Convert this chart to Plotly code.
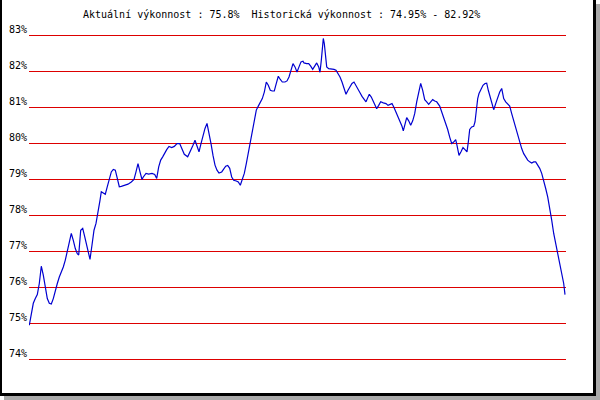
import plotly.graph_objects as go

# time axis (arbitrary units) and performance in %
den = [29.3, 31.3, 33.3, 35.3, 37.3, 39.3, 41.3, 43.3, 45.3, 47.3,
       49.3, 51.3, 53.3, 55.3, 57.3, 59.3, 61.3, 63.3, 65.3, 67.3,
       69.3, 71.3, 73.3, 75.3, 77.3, 78.7, 80.7, 82.7, 84.7, 86.7,
       88.7, 90.0, 92.0, 94.0, 96.0, 98.0, 100.0, 101.3, 103.3, 105.3,
       107.3, 109.3, 111.3, 113.3, 115.3, 117.3, 119.3, 121.3, 124.7, 128.0,
       131.3, 134.0, 136.0, 138.0, 140.0, 142.0, 143.3, 146.0, 148.7, 152.0,
       154.7, 156.7, 158.7, 160.7, 162.7, 164.7, 166.7, 169.0, 171.7, 174.3,
       177.0, 179.7, 181.7, 184.3, 187.7, 190.3, 193.0, 195.0, 197.0, 199.0,
       201.0, 203.0, 205.0, 207.0, 209.0, 211.0, 213.0, 215.0, 217.0, 219.0,
       221.7, 223.7, 225.7, 227.7, 229.7, 231.7, 233.7, 236.3, 238.3, 240.3,
       242.3, 244.3, 246.3, 248.3, 250.3, 252.3, 254.3, 256.3, 258.3, 260.3,
       262.3, 264.3, 266.3, 268.3, 270.3, 272.3, 274.3, 276.3, 278.3, 280.3,
       282.3, 285.0, 287.0, 289.0, 291.0, 293.0, 295.0, 297.0, 299.0, 301.0,
       303.0, 304.0, 306.7, 308.7, 310.7, 312.7, 314.7, 316.7, 318.7, 320.0,
       321.3, 322.3, 323.3, 324.3, 325.3, 326.7, 328.7, 331.3, 334.0, 336.0,
       338.0, 340.0, 342.0, 344.0, 346.0, 348.0, 350.0, 352.0, 354.0, 356.0,
       358.0, 360.0, 362.0, 364.0, 366.0, 368.0, 369.3, 371.3, 373.3, 375.3,
       376.7, 378.7, 380.7, 383.3, 386.0, 388.0, 390.0, 392.0, 394.0, 396.0,
       398.0, 400.0, 402.0, 403.3, 405.3, 406.7, 408.7, 410.7, 412.7, 414.7,
       416.7, 418.7, 420.7, 422.7, 424.7, 426.7, 428.7, 430.7, 432.7, 434.7,
       436.7, 439.7, 441.7, 443.7, 445.7, 447.7, 449.7, 451.7, 453.7, 455.7,
       457.0, 459.0, 461.0, 463.0, 465.0, 467.0, 468.3, 469.7, 471.7, 473.7,
       475.0, 476.3, 477.7, 479.0, 481.0, 483.0, 485.0, 486.7, 488.3, 490.3,
       492.3, 493.7, 495.7, 497.7, 499.7, 501.7, 503.7, 505.7, 507.7, 509.7,
       511.7, 513.7, 515.7, 517.7, 519.7, 521.7, 523.7, 525.7, 527.7, 529.7,
       531.7, 533.7, 535.7, 537.7, 539.7, 541.7, 543.7, 545.7, 547.7, 549.7,
       551.7, 553.7, 555.7, 557.7, 559.7, 561.7, 563.7, 565.0]

vykonnost = [74.95, 75.32, 75.56, 75.69, 75.80, 76.11, 76.59, 76.34, 76.02, 75.69,
             75.56, 75.54, 75.69, 75.93, 76.11, 76.29, 76.41, 76.57, 76.76, 76.99,
             77.22, 77.50, 77.31, 77.08, 76.94, 76.90, 77.59, 77.64, 77.41, 77.18,
             76.93, 76.78, 77.18, 77.59, 77.78, 78.06, 78.42, 78.66, 78.63, 78.59,
             78.80, 79.03, 79.21, 79.28, 79.26, 79.03, 78.80, 78.81, 78.83, 78.87,
             78.93, 79.00, 79.21, 79.44, 79.21, 79.00, 79.07, 79.17, 79.15, 79.17,
             79.14, 79.03, 79.35, 79.54, 79.63, 79.74, 79.83, 79.92, 79.89, 79.92,
             80.00, 80.00, 79.86, 79.70, 79.63, 79.77, 79.95, 80.09, 79.95, 79.77,
             80.00, 80.23, 80.42, 80.56, 80.32, 80.00, 79.67, 79.40, 79.26, 79.18,
             79.21, 79.28, 79.37, 79.39, 79.31, 79.07, 78.98, 78.96, 78.93, 78.84,
             78.98, 79.17, 79.44, 79.72, 80.00, 80.32, 80.65, 80.93, 81.04, 81.13,
             81.25, 81.43, 81.71, 81.62, 81.48, 81.46, 81.46, 81.67, 81.87, 81.78,
             81.71, 81.71, 81.74, 81.85, 82.04, 82.22, 82.13, 81.99, 82.13, 82.27,
             82.29, 82.24, 82.22, 82.22, 82.15, 82.06, 82.15, 82.24, 82.13, 81.98,
             82.31, 82.73, 82.92, 82.78, 82.45, 82.13, 82.08, 82.08, 82.06, 82.04,
             81.96, 81.85, 81.71, 81.53, 81.37, 81.48, 81.59, 81.67, 81.71, 81.62,
             81.50, 81.41, 81.31, 81.22, 81.16, 81.29, 81.37, 81.29, 81.18, 81.09,
             80.97, 81.06, 81.16, 81.13, 81.11, 81.06, 81.09, 81.11, 81.00, 80.88,
             80.74, 80.60, 80.48, 80.35, 80.56, 80.72, 80.63, 80.51, 80.63, 80.83,
             81.16, 81.43, 81.67, 81.48, 81.22, 81.16, 81.09, 81.16, 81.22, 81.18,
             81.16, 81.04, 80.88, 80.74, 80.57, 80.39, 80.18, 80.00, 80.04, 80.11,
             79.95, 79.67, 79.77, 79.89, 79.83, 79.77, 80.04, 80.39, 80.46, 80.48,
             80.60, 80.97, 81.25, 81.39, 81.50, 81.62, 81.67, 81.68, 81.48, 81.25,
             81.02, 80.94, 81.11, 81.29, 81.43, 81.53, 81.25, 81.16, 81.11, 81.04,
             80.83, 80.63, 80.42, 80.20, 80.00, 79.86, 79.72, 79.61, 79.54, 79.49,
             79.46, 79.49, 79.49, 79.40, 79.31, 79.17, 78.98, 78.75, 78.52, 78.24,
             77.87, 77.50, 77.22, 76.99, 76.71, 76.43, 76.11, 75.80]

tick_vals = [74, 75, 76, 77, 78, 79, 80, 81, 82, 83]
tick_text = ["74%", "75%", "76%", "77%", "78%", "79%", "80%", "81%", "82%", "83%"]

aktualni = "75.8%"
hist_min = "74.95%"
hist_max = "82.92%"
title_text = ("Aktuální výkonnost : " + aktualni + "  Historická výkonnost : "
              + hist_min + " - " + hist_max)

W, H = 600, 400
ML, MR, MT, MB = 29, 34, 32, 37
PW, PH = W - ML - MR, H - MT - MB


def px(x):
    return (x - ML) / PW


def py(y):
    return (H - MB - y) / PH


FONT = dict(family="DejaVu Sans Mono", size=10, color="#000000")

fig = go.Figure()
fig.add_trace(go.Scatter(x=den, y=vykonnost, mode="lines",
                         line=dict(color="#0000d0", width=1.2),
                         hoverinfo="skip", showlegend=False))

shapes = []
def rect(x0, y0, x1, y1, color):
    shapes.append(dict(type="rect", xref="paper", yref="paper",
                       x0=px(x0), x1=px(x1), y0=py(y1), y1=py(y0),
                       fillcolor=color, line=dict(width=0), layer="above"))

rect(596, 4, 600, 400, "#aaaaaa")
rect(4, 396, 600, 400, "#aaaaaa")
rect(0, 0, 2, 396, "black")
rect(593, 0, 596, 396, "black")
rect(0, 393, 596, 396, "black")

fig.update_layout(
    width=W, height=H, autosize=False,
    margin=dict(l=ML, r=MR, t=MT, b=MB, pad=0, autoexpand=False),
    paper_bgcolor="white", plot_bgcolor="white",
    font=FONT,
    showlegend=False,
    xaxis=dict(range=[29, 566], showgrid=False, zeroline=False,
               showticklabels=False, showline=False, automargin=False),
    yaxis=dict(range=[73.9, 83.1], tickvals=tick_vals, ticktext=tick_text,
               showgrid=True, gridcolor="#dd0000", gridwidth=1,
               zeroline=False, showline=False, automargin=False,
               ticklabelshift=-6, ticklabelstandoff=1, tickfont=FONT),
    shapes=shapes,
    annotations=[dict(text=title_text, xref="paper", yref="paper",
                      x=px(81), y=py(14), xanchor="left", yanchor="middle",
                      showarrow=False, font=FONT)],
)

fig.write_html("out.html", config={"displayModeBar": False},
               post_script="document.body.style.margin='0';document.body.style.overflow='hidden';")
